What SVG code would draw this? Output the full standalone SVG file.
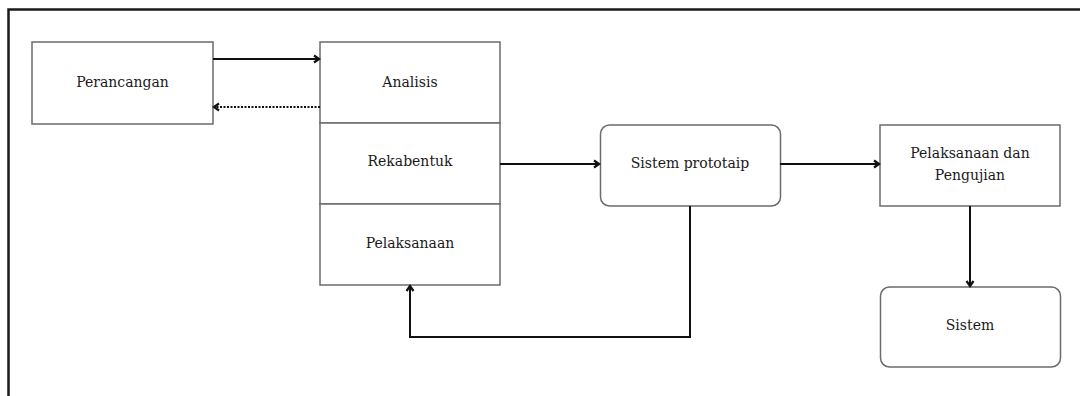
<svg xmlns="http://www.w3.org/2000/svg" width="1080" height="396" viewBox="0 0 1080 396">
<style>
.box{fill:#fff;stroke:#6b6b6b;stroke-width:1.5}
.lbl{font-family:"DejaVu Serif","Liberation Serif",serif;font-size:14px;fill:#1a1a1a;text-anchor:middle}
.edge{fill:none;stroke:#111;stroke-width:2}
.dot{fill:none;stroke:#111;stroke-width:2;stroke-dasharray:2 1.5}
</style>
<defs>
<marker id="ah" viewBox="0 0 10 10" refX="8" refY="5" markerWidth="10" markerHeight="10" orient="auto" markerUnits="userSpaceOnUse">
<path d="M3,1.5 L8,5 L3,8.5" fill="none" stroke="#111" stroke-width="2.2"/>
</marker>
</defs>
<rect width="1080" height="396" fill="#fff"/>
<path d="M8.5,396 V9.5 H1080" fill="none" stroke="#1a1a1a" stroke-width="2.5"/>
<g id="perancangan"><rect class="box" x="32" y="42" width="181" height="82"/><text class="lbl" x="122.5" y="87">Perancangan</text></g>
<g id="analisis"><rect class="box" x="320" y="42" width="180" height="81"/><text class="lbl" x="410" y="87">Analisis</text></g>
<g id="rekabentuk"><rect class="box" x="320" y="123" width="180" height="81"/><text class="lbl" x="410" y="166">Rekabentuk</text></g>
<g id="pelaksanaan"><rect class="box" x="320" y="204" width="180" height="81"/><text class="lbl" x="410" y="248">Pelaksanaan</text></g>
<g id="prototaip"><rect class="box" x="600.5" y="125" width="180" height="81" rx="9"/><text class="lbl" x="690" y="168">Sistem prototaip</text></g>
<g id="pengujian"><rect class="box" x="880" y="125" width="180" height="81"/><text class="lbl" x="970" y="158">Pelaksanaan dan</text><text class="lbl" x="970" y="180">Pengujian</text></g>
<g id="sistem"><rect class="box" x="880.5" y="287" width="180" height="80" rx="9"/><text class="lbl" x="970" y="330">Sistem</text></g>
<g id="connectors">
<line class="edge" x1="213" y1="59" x2="319" y2="59" marker-end="url(#ah)"/>
<line class="dot" x1="320" y1="107" x2="214" y2="107" marker-end="url(#ah)"/>
<line class="edge" x1="500" y1="164" x2="599" y2="164" marker-end="url(#ah)"/>
<line class="edge" x1="780" y1="164" x2="879" y2="164" marker-end="url(#ah)"/>
<line class="edge" x1="970" y1="206" x2="970" y2="286" marker-end="url(#ah)"/>
<path class="edge" d="M690,206 V337 H410 V286" marker-end="url(#ah)"/>
</g>
</svg>
